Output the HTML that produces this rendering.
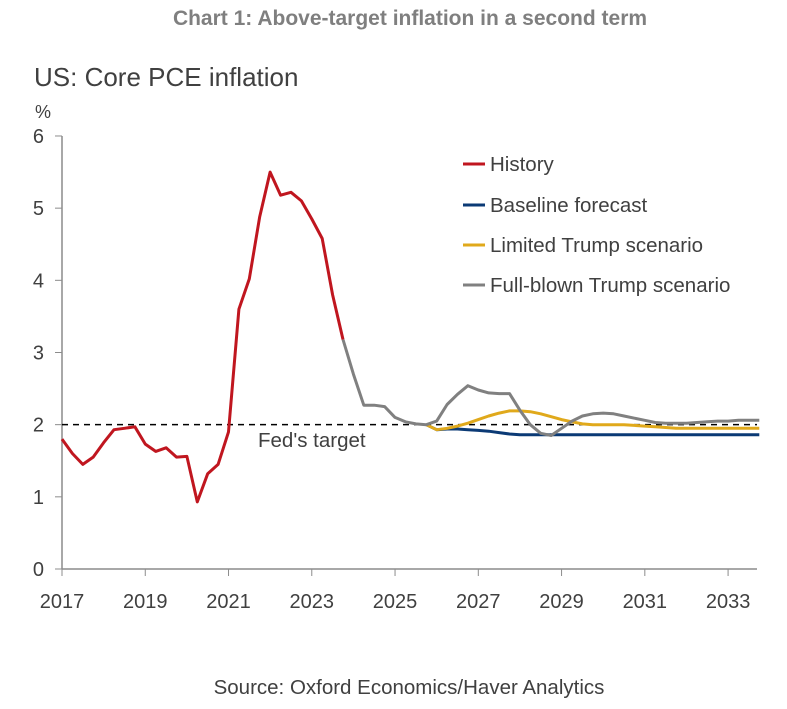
<!DOCTYPE html>
<html><head><meta charset="utf-8"><style>
body{margin:0;background:#fff;width:787px;height:704px;overflow:hidden;font-family:"Liberation Sans",sans-serif}
</style></head><body>
<svg width="787" height="704">
<text x="410" y="25" text-anchor="middle" font-size="21" font-weight="bold" fill="#7f7f7f">Chart 1: Above-target inflation in a second term</text>
<text x="34" y="86" font-size="26" fill="#404040">US: Core PCE inflation</text>
<text x="35" y="118" font-size="18" fill="#404040">%</text>
<text x="409" y="694" text-anchor="middle" font-size="20.5" fill="#404040">Source: Oxford Economics/Haver Analytics</text>
<g id="axes"></g>
<g id="series"></g>
<g>
<line x1="463" y1="164" x2="485" y2="164" stroke="#c0161f" stroke-width="3"/><text x="490" y="171" font-size="20.5" fill="#404040">History</text>
<line x1="463" y1="205" x2="485" y2="205" stroke="#0b3a75" stroke-width="3"/><text x="490" y="212" font-size="20.5" fill="#404040">Baseline forecast</text>
<line x1="463" y1="245" x2="485" y2="245" stroke="#e0a91b" stroke-width="3"/><text x="490" y="252" font-size="20.5" fill="#404040">Limited Trump scenario</text>
<line x1="463" y1="285" x2="485" y2="285" stroke="#808080" stroke-width="3"/><text x="490" y="292" font-size="20.5" fill="#404040">Full-blown Trump scenario</text>
</g>
</svg>
<script>
const yTicks=[0,1,2,3,4,5,6];
const xTicks=[2017,2019,2021,2023,2025,2027,2029,2031,2033];
const history=[1.8,1.6,1.45,1.55,1.75,1.93,1.95,1.97,1.73,1.63,1.68,1.55,1.56,0.93,1.32,1.45,1.9,3.6,4.02,4.88,5.5,5.18,5.22,5.1,4.85,4.58,3.8,3.18];
const common=[2.7,2.27,2.27,2.25,2.1,2.04,2.01,2.0];
const fullBlown=[2.05,2.28,2.42,2.54,2.48,2.44,2.43,2.43,2.2,2.0,1.88,1.85,1.95,2.05,2.12,2.15,2.16,2.15,2.12,2.09,2.06,2.03,2.02,2.02,2.02,2.03,2.04,2.05,2.05,2.06,2.06,2.06];
const limited=[1.93,1.95,1.98,2.02,2.07,2.12,2.16,2.19,2.19,2.18,2.15,2.11,2.07,2.04,2.01,2.0,2.0,2.0,2.0,1.99,1.98,1.97,1.96,1.95,1.95,1.95,1.95,1.95,1.95,1.95,1.95,1.95];
const baseline=[1.93,1.94,1.94,1.93,1.92,1.91,1.89,1.87,1.86,1.86,1.86,1.86,1.86,1.86,1.86,1.86,1.86,1.86,1.86,1.86,1.86,1.86,1.86,1.86,1.86,1.86,1.86,1.86,1.86,1.86,1.86,1.86];
const target=2;
const X=t=>62+(t-2017)*41.63;
const Y=v=>569-v*72.17;
const NS="http://www.w3.org/2000/svg";
const ax=document.getElementById('axes'),sr=document.getElementById('series');
function mk(tag,attrs,parent){const e=document.createElementNS(NS,tag);for(const k in attrs)e.setAttribute(k,attrs[k]);parent.appendChild(e);return e;}
let e=mk('line',{x1:62,y1:Y(6),x2:62,y2:569,stroke:'#8c8c8c','stroke-width':1.5},ax);


e=mk('line',{x1:62,y1:569,x2:757,y2:569,stroke:'#8c8c8c','stroke-width':1.5},ax);


yTicks.forEach(v=>{mk('line',{x1:55,y1:Y(v),x2:62,y2:Y(v),stroke:'#8c8c8c'},ax);
const t=mk('text',{x:44,y:Y(v)+7,'text-anchor':'end','font-size':20,fill:'#404040'},ax);t.textContent=v;

});
xTicks.forEach(v=>{mk('line',{x1:X(v),y1:569,x2:X(v),y2:576,stroke:'#8c8c8c'},ax);
const t=mk('text',{x:X(v),y:608,'text-anchor':'middle','font-size':20,fill:'#404040'},ax);t.textContent=v;

});
e=mk('line',{x1:62,y1:Y(target),x2:757,y2:Y(target),stroke:'#000','stroke-width':1.5,'stroke-dasharray':'6,5'},sr);


e=mk('text',{x:258,y:447,'font-size':20.5,fill:'#404040'},sr);e.textContent="Fed's target";


function line(vals,start,color,name){const d=vals.map((v,i)=>(i?'L':'M')+X(start+i/4).toFixed(1)+','+Y(v).toFixed(1)).join('');
const p=mk('path',{d:d,fill:'none',stroke:color,'stroke-width':3,'stroke-linejoin':'round'},sr);

}
const last=common[common.length-1];
line([last].concat(baseline),2025.75,'#0b3a75','baseline-line');
line([last].concat(limited),2025.75,'#e0a91b','limited-line');
line([history[history.length-1]].concat(common,fullBlown),2023.75,'#808080','fullblown-line');
line(history,2017,'#c0161f','history-line');
</script>
</body></html>
